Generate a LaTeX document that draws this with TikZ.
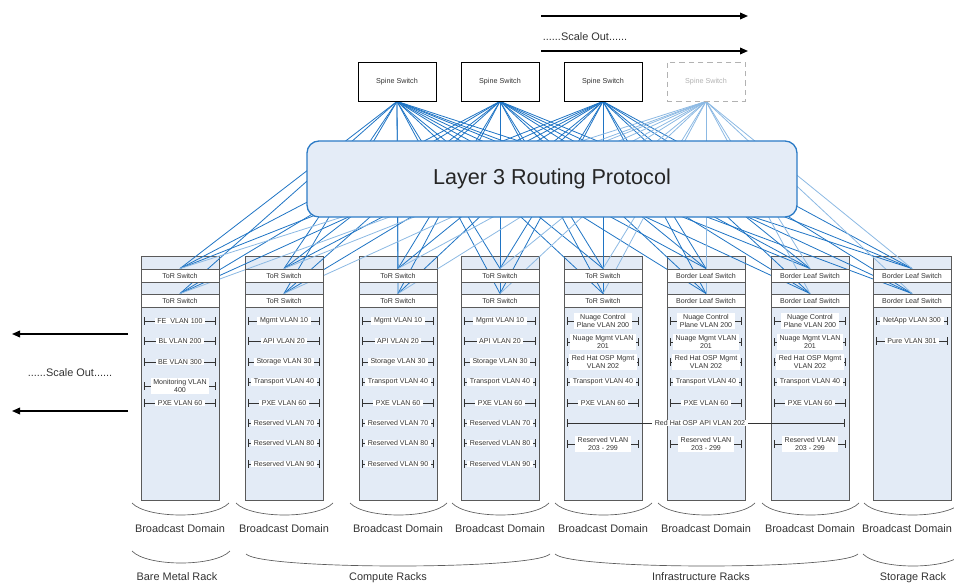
\documentclass[tikz,border=0pt]{standalone}
\usepackage{fontspec}
\setmainfont{Liberation Sans}
\usetikzlibrary{arrows.meta}
\definecolor{rackfill}{HTML}{E3EBF6}
\definecolor{rackdraw}{HTML}{5A5A5A}
\definecolor{linkblue}{HTML}{1F74C4}
\definecolor{linklight}{HTML}{8CB9E3}
\definecolor{ltext}{HTML}{333333}
\definecolor{l3fill}{HTML}{E4ECF7}
\definecolor{l3draw}{HTML}{2C7BC6}
\pgfdeclarelayer{bglayer}
\pgfdeclarelayer{linklayer}
\pgfsetlayers{bglayer,linklayer,main}
\begin{document}
\begin{tikzpicture}[x=0.75pt,y=-0.75pt,
  rackbox/.style={draw=rackdraw,fill=rackfill,line width=0.8pt,minimum width=58.5pt,minimum height=183pt,inner sep=0pt,anchor=north west},
  torbox/.style={draw=rackdraw,fill=white,line width=0.7pt,minimum width=58.5pt,minimum height=9.75pt,inner sep=0pt,font=\fontsize{5.3}{6}\selectfont,text=ltext},
  spinebox/.style={draw=black,fill=white,line width=0.6pt,minimum width=58.5pt,minimum height=29.25pt,inner sep=0pt,font=\fontsize{5.4}{6}\selectfont,text=ltext},
  ghostbox/.style={spinebox,draw=gray!60,text=gray!60,dash pattern=on 4pt off 3pt},
  vlanlbl/.style={fill=white,inner xsep=2pt,inner ysep=0.6pt,font=\fontsize{5.3}{6.4}\selectfont,text=ltext,align=center},
  vlanline/.style={draw=ltext,line width=0.5pt,{Bar[width=5.5pt]}-{Bar[width=5.5pt]}},
  link/.style={draw=linkblue,line width=0.6pt},
  linkfaint/.style={draw=linklight,line width=0.6pt},
  biglbl/.style={font=\fontsize{8.2}{10}\selectfont,text=ltext},
  bracecurve/.style={draw=ltext!80,line width=0.5pt},
  scalearrow/.style={draw=black,line width=1.1pt,-{Triangle[length=6pt,width=5pt]}}
]
\useasboundingbox (0,0) rectangle (954,585);

% racks
\begin{pgfonlayer}{bglayer}
\foreach \i/\x in {1/141,2/245,3/359,4/461,5/564,6/667,7/771,8/873}{
  \node[rackbox] (r\i) at (\x,256) {};
}
\end{pgfonlayer}

% switches in racks
\foreach \i/\x/\t in {1/141/ToR Switch,2/245/ToR Switch,3/359/ToR Switch,4/461/ToR Switch,5/564/ToR Switch,6/667/Border Leaf Switch,7/771/Border Leaf Switch,8/873/Border Leaf Switch}{
  \node[torbox] (ta\i) at (\x+39,275.5) {\t};
  \node[torbox] (tb\i) at (\x+39,300.5) {\t};
}

% spine switches
\node[spinebox] (s1) at (397,81.5) {Spine Switch};
\node[spinebox] (s2) at (500,81.5) {Spine Switch};
\node[spinebox] (s3) at (603,81.5) {Spine Switch};
\node[ghostbox] (s4) at (706,81.5) {Spine Switch};

% links
\begin{pgfonlayer}{linklayer}
\foreach \s in {1,2,3}{
  \foreach \i in {1,...,8}{
    \draw[link] (s\s.south) -- (ta\i.north);
    \draw[link] (s\s.south) -- (tb\i.north);
  }
}
\foreach \i in {1,...,8}{
  \draw[linkfaint] (s4.south) -- (ta\i.north);
  \draw[linkfaint] (s4.south) -- (tb\i.north);
}
\end{pgfonlayer}

% layer 3
\node[draw=l3draw,fill=l3fill,line width=1pt,rounded corners=9pt,minimum width=367.5pt,minimum height=57pt,font=\fontsize{16.2}{18}\selectfont,text=black!85] (l3) at (552,179) {Layer 3 Routing Protocol};

% VLANs bare metal
\foreach \y/\t in {321/{FE\ \ VLAN 100},341/{BL VLAN 200},362/{BE VLAN 300},386/{Monitoring VLAN\\400},403/{PXE VLAN 60}}{
  \draw[vlanline] (144,\y) -- (216,\y);
  \node[vlanlbl] (va\y) at (180,\y) {\t};
}
% VLANs compute
\foreach \x in {245,359,461}{
  \foreach \y/\t in {321/{Mgmt VLAN 10},341/{API VLAN 20},362/{Storage VLAN 30},382/{Transport VLAN 40},403/{PXE VLAN 60},423/{Reserved VLAN 70},443/{Reserved VLAN 80},464/{Reserved VLAN 90}}{
    \draw[vlanline] (\x+3,\y) -- (\x+75,\y);
    \node[vlanlbl] (vc\x-\y) at (\x+39,\y) {\t};
  }
}
% VLANs infrastructure
\foreach \x in {564,667,771}{
  \foreach \y/\t in {321/{Nuage Control\\Plane VLAN 200},342/{Nuage Mgmt VLAN\\201},362/{Red Hat OSP Mgmt\\VLAN 202},382/{Transport VLAN 40},403/{PXE VLAN 60},444/{Reserved VLAN\\203 - 299}}{
    \draw[vlanline] (\x+3,\y) -- (\x+75,\y);
    \node[vlanlbl] (vi\x-\y) at (\x+39,\y) {\t};
  }
}
\draw[vlanline] (567,423) -- (845,423);
\node[vlanlbl] (api) at (700,423) {Red Hat OSP API VLAN 202};
% VLANs storage
\foreach \y/\t in {321/{NetApp VLAN 300},341/{Pure VLAN 301}}{
  \draw[vlanline] (876,\y) -- (948,\y);
  \node[vlanlbl] (vs\y) at (912,\y) {\t};
}

% scale out arrows
\coordinate (ua0) at (541,16); \coordinate (ua1) at (748,16);
\coordinate (ub0) at (541,51); \coordinate (ub1) at (748,51);
\draw[scalearrow] (ua0) -- (ua1);
\draw[scalearrow] (ub0) -- (ub1);
\node[biglbl] (sotop) at (585,37) {......Scale Out......};
\coordinate (la0) at (128,334); \coordinate (la1) at (12,334);
\coordinate (lb0) at (128,411); \coordinate (lb1) at (12,411);
\draw[scalearrow] (la0) -- (la1);
\draw[scalearrow] (lb0) -- (lb1);
\node[biglbl] (soleft) at (70,373) {......Scale Out......};

% broadcast domains
\foreach \i/\x in {1/141,2/245,3/359,4/461,5/564,6/667,7/771,8/873}{
  \draw[bracecurve] (\x-9,503) .. controls (\x+6,519) and (\x+73,519) .. (\x+88,503);
}
\foreach \i/\c in {1/180,2/284,3/398,4/500,5/603,6/706,7/810,8/907}{
  \node[biglbl] (bd\i) at (\c,529) {Broadcast Domain};
}

% rack groups
\draw[bracecurve] (132,551) .. controls (147,567) and (215,567) .. (230,551);
\draw[bracecurve] (246,554) .. controls (262,570) and (534,570) .. (550,554);
\draw[bracecurve] (555,554) .. controls (571,570) and (842,570) .. (858,554);
\draw[bracecurve] (863,554) .. controls (879,570) and (947,570) .. (963,554);
\node[biglbl] (g1) at (177,577) {Bare Metal Rack};
\node[biglbl] (g2) at (388,578) {Compute Racks};
\node[biglbl] (g3) at (701,577) {Infrastructure Racks};
\node[biglbl] (g4) at (913,578) {Storage Rack};
\end{tikzpicture}
\end{document}
